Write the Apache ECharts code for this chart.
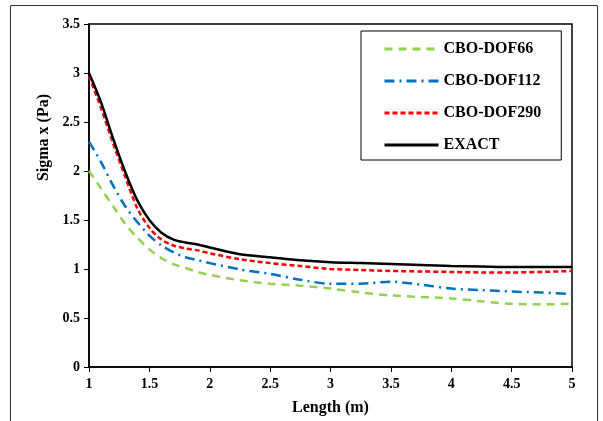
<!DOCTYPE html>
<html>
<head>
<meta charset="utf-8">
<script src="https://cdn.jsdelivr.net/npm/echarts@6/dist/echarts.min.js"></script>
<style>
  html, body { margin: 0; padding: 0; background: #fff; }
  #chart { width: 603px; height: 421px; }
</style>
</head>
<body>
<div id="chart"></div>
<script>
// x positions (m)
const lengths = [1, 1.1, 1.2, 1.3, 1.4, 1.5, 1.6, 1.7, 1.8, 1.9, 2, 2.25, 2.5, 2.75, 3, 3.25, 3.5, 3.75, 4, 4.25, 4.5, 4.75, 5];
const dof66 = [2.00, 1.82, 1.64, 1.46, 1.32, 1.20, 1.11, 1.05, 1.01, 0.97, 0.94, 0.885, 0.85, 0.83, 0.80, 0.76, 0.73, 0.715, 0.70, 0.67, 0.645, 0.64, 0.645];
const dof112 = [2.30, 2.09, 1.85, 1.64, 1.48, 1.34, 1.24, 1.17, 1.12, 1.09, 1.06, 0.995, 0.95, 0.89, 0.85, 0.85, 0.87, 0.84, 0.80, 0.785, 0.77, 0.76, 0.745];
const dof290 = [2.97, 2.64, 2.28, 1.94, 1.62, 1.42, 1.30, 1.24, 1.21, 1.19, 1.16, 1.10, 1.06, 1.03, 1.00, 0.99, 0.98, 0.975, 0.97, 0.965, 0.965, 0.97, 0.98];
const exact = [3.00, 2.70, 2.33, 1.99, 1.70, 1.50, 1.37, 1.30, 1.27, 1.25, 1.22, 1.15, 1.12, 1.09, 1.07, 1.06, 1.05, 1.04, 1.03, 1.025, 1.02, 1.02, 1.02];

const seriesNames = ['CBO-DOF66', 'CBO-DOF112', 'CBO-DOF290', 'EXACT'];
const FONT = '"Liberation Serif", "Times New Roman", serif';

const pairs = arr => arr.map((v, i) => [lengths[i], v]);

const chart = echarts.init(document.getElementById('chart'));
chart.setOption({
  animation: false,
  backgroundColor: '#fff',
  graphic: [{
    type: 'rect',
    shape: { x: 10.5, y: 5.5, width: 587, height: 430 },
    style: { fill: 'none', stroke: '#333', lineWidth: 1 },
    silent: true
  }],
  grid: {
    left: 89,
    right: 31,
    top: 24,
    bottom: 54,
    show: true,
    borderColor: '#000',
    borderWidth: 1.5
  },
  legend: {
    orient: 'vertical',
    left: 361,
    top: 31,
    padding: [10, 20, 7, 22],
    itemWidth: 54,
    itemHeight: 14,
    itemGap: 16,
    borderColor: '#000',
    borderWidth: 1,
    backgroundColor: '#fff',
    itemStyle: { opacity: 0 },
    lineStyle: { width: 3 },
    data: seriesNames,
    textStyle: { fontFamily: FONT, fontWeight: 'bold', fontSize: 16, color: '#000', lineHeight: 14 }
  },
  xAxis: {
    type: 'value',
    min: 1,
    max: 5,
    interval: 0.5,
    name: 'Length (m)',
    nameLocation: 'middle',
    nameGap: 33,
    nameTextStyle: { fontFamily: FONT, fontWeight: 'bold', fontSize: 16, color: '#000' },
    axisLine: { lineStyle: { color: '#000', width: 1.5 } },
    axisTick: { show: true, length: 5, lineStyle: { color: '#000' } },
    axisLabel: { margin: 10, fontFamily: FONT, fontWeight: 'bold', fontSize: 14, color: '#000' },
    splitLine: { show: false }
  },
  yAxis: {
    type: 'value',
    min: 0,
    max: 3.5,
    interval: 0.5,
    name: 'Sigma x (Pa)',
    nameLocation: 'middle',
    nameGap: 36,
    nameTextStyle: { fontFamily: FONT, fontWeight: 'bold', fontSize: 16, color: '#000', padding: [0, 0, 0, 116] },
    axisLine: { show: true, lineStyle: { color: '#000', width: 1.5 } },
    axisTick: { show: true, length: 5, lineStyle: { color: '#000' } },
    axisLabel: { margin: 9, fontFamily: FONT, fontWeight: 'bold', fontSize: 14, color: '#000' },
    splitLine: { show: false }
  },
  series: [
    {
      name: 'CBO-DOF66',
      type: 'line',
      smooth: 0.3,
      symbol: 'none',
      lineStyle: { color: '#92D050', width: 2.5, type: [8, 6] },
      itemStyle: { color: '#92D050' },
      data: pairs(dof66)
    },
    {
      name: 'CBO-DOF112',
      type: 'line',
      smooth: 0.3,
      symbol: 'none',
      lineStyle: { color: '#0070C0', width: 2.5, type: [10, 5, 2, 5] },
      itemStyle: { color: '#0070C0' },
      data: pairs(dof112)
    },
    {
      name: 'CBO-DOF290',
      type: 'line',
      smooth: 0.3,
      symbol: 'none',
      lineStyle: { color: '#FF0000', width: 2.5, type: [5, 3] },
      itemStyle: { color: '#FF0000' },
      data: pairs(dof290)
    },
    {
      name: 'EXACT',
      type: 'line',
      smooth: 0.3,
      symbol: 'none',
      lineStyle: { color: '#000', width: 2.5, type: 'solid' },
      itemStyle: { color: '#000' },
      data: pairs(exact)
    }
  ]
});
</script>
</body>
</html>
